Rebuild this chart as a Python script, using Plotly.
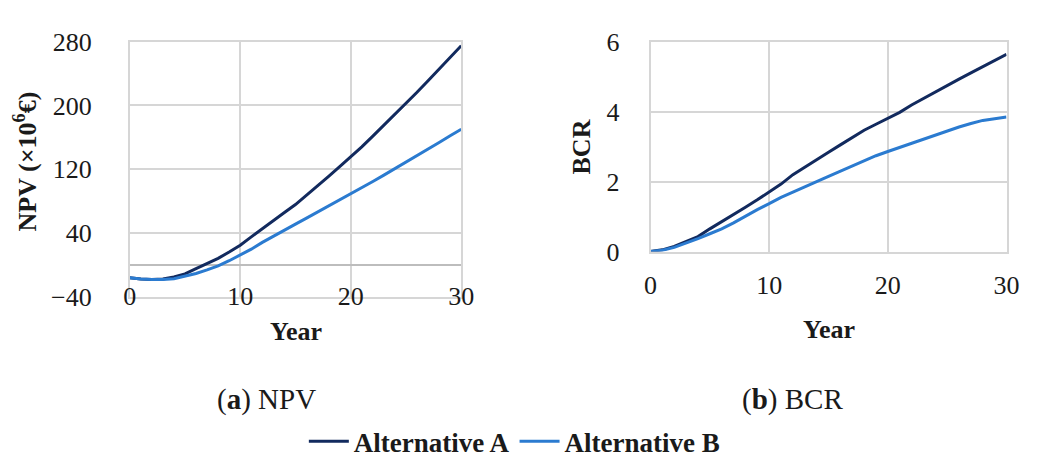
import plotly.graph_objects as go

years = list(range(31))

npv_a = [-16.5, -18, -18.5, -18, -15.5, -11.5, -5, 1, 8, 16, 24.5,
         35, 45.5, 56, 65.5, 75.5, 87, 99, 111, 123, 135,
         148, 161.5, 175, 188.5, 202, 216.5, 231, 245.5, 260, 275]
npv_b = [-16.5, -18, -18.5, -18.5, -17.5, -14.5, -11, -6.5, -1.5, 5, 12,
         19.5, 28, 36, 43.5, 51, 58.5, 66, 73.5, 81, 88.5,
         96.5, 104.5, 112.5, 120.5, 129, 137, 145, 153.5, 162, 170]
bcr_a = [0, 0.05, 0.15, 0.28, 0.43, 0.65, 0.85, 1.05, 1.27, 1.48, 1.70,
         1.93, 2.20, 2.42, 2.62, 2.84, 3.05, 3.27, 3.47, 3.64, 3.80,
         3.98, 4.19, 4.38, 4.56, 4.74, 4.93, 5.11, 5.28, 5.46, 5.64]
bcr_b = [0, 0.04, 0.12, 0.24, 0.37, 0.51, 0.65, 0.82, 1.02, 1.20, 1.37,
         1.55, 1.70, 1.86, 2.00, 2.15, 2.30, 2.46, 2.60, 2.74, 2.86,
         2.98, 3.10, 3.22, 3.34, 3.46, 3.56, 3.66, 3.75, 3.80, 3.85]

series_names = ["Alternative A", "Alternative B"]
colors = ["#122a5e", "#2b7bd0"]

W, H = 1037, 461
FONT = "Liberation Serif, Times New Roman, serif"
GRID = "#d6d6d6"

def px(x):
    return x / W

def py(y):
    return 1 - y / H

fig = go.Figure()
for i, (vals, name) in enumerate(zip([npv_a, npv_b], series_names)):
    fig.add_trace(go.Scatter(x=years, y=vals, mode="lines", name="<b>" + name + "</b>",
                             line=dict(color=colors[i], width=3),
                             xaxis="x", yaxis="y", showlegend=True))
for i, (vals, name) in enumerate(zip([bcr_a, bcr_b], series_names)):
    fig.add_trace(go.Scatter(x=years, y=vals, mode="lines", name=name,
                             line=dict(color=colors[i], width=3),
                             xaxis="x2", yaxis="y2", showlegend=False))

def tickfont():
    return dict(family=FONT, size=26, color="#1a1a1a")

def xaxis_common():
    return dict(range=[0, 30], tickvals=[0, 10, 20, 30], showgrid=True,
                gridcolor=GRID, gridwidth=1.5, showline=True, linecolor=GRID,
                linewidth=1.5, mirror=True, zeroline=False, ticks="",
                tickfont=tickfont())

fig.update_layout(
    width=W, height=H,
    margin=dict(l=0, r=0, t=0, b=0),
    paper_bgcolor="white", plot_bgcolor="white",
    font=dict(family=FONT, color="#1a1a1a"),
    xaxis=dict(domain=[px(117), px(455)], anchor="y",
               ticklabelstandoff=-25, **xaxis_common()),
    yaxis=dict(domain=[py(293), py(21)], anchor="x", range=[-40, 280],
               tick0=-40, dtick=80, showgrid=True, gridcolor=GRID, gridwidth=1.5,
               showline=True, linecolor=GRID, linewidth=1.5, mirror=True,
               zeroline=True, zerolinecolor="#bdbdbd", zerolinewidth=2,
               ticks="", tickfont=tickfont(), ticklabelstandoff=31),
    xaxis2=dict(domain=[px(648), px(1011)], anchor="y2",
                ticklabelstandoff=9, **xaxis_common()),
    yaxis2=dict(domain=[py(245), py(21)], anchor="x2", range=[0, 6],
                tickvals=[0, 2, 4, 6], showgrid=True, gridcolor=GRID, gridwidth=1.5,
                showline=True, linecolor=GRID, linewidth=1.5, mirror=True,
                zeroline=False, ticks="", tickfont=tickfont(), ticklabelstandoff=24),
    legend=dict(orientation="h", x=0.491, xanchor="center", y=py(448), yanchor="middle",
                font=dict(family=FONT, size=27, color="#1a1a1a"),
                itemwidth=40, traceorder="normal", bgcolor="rgba(0,0,0,0)"),
    showlegend=True,
)

annots = [
    dict(text="<b>NPV (×10<sup>6</sup>€)</b>", x=px(11), y=py(149), textangle=-90,
         size=26),
    dict(text="<b>BCR</b>", x=px(578), y=py(133), textangle=-90, size=26),
    dict(text="<b>Year</b>", x=px(287), y=py(330), size=26),
    dict(text="<b>Year</b>", x=px(830), y=py(328), size=26),
    dict(text="(<b>a</b>) NPV", x=px(256), y=py(403), size=29),
    dict(text="(<b>b</b>) BCR", x=px(793), y=py(403), size=29),
]
for a in annots:
    size = a.pop("size")
    fig.add_annotation(xref="paper", yref="paper", showarrow=False, xanchor="center",
                       yanchor="middle",
                       font=dict(family=FONT, size=size, color="#1a1a1a"), **a)

fig.write_html("out.html")
